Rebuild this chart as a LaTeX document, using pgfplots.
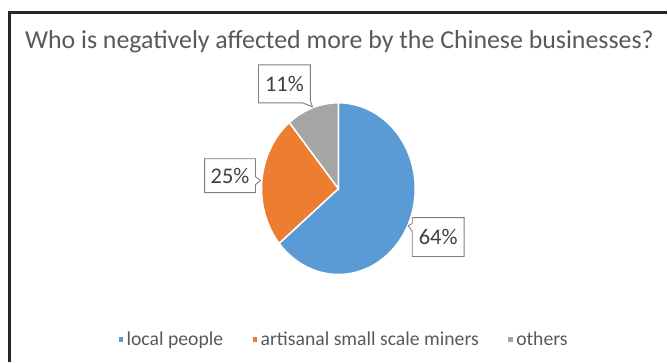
\documentclass[border=0pt]{standalone}
\usepackage{pgfplots}
\pgfplotsset{compat=1.18}
\usepackage{fontspec}
\setmainfont{Carlito}
\definecolor{cblue}{HTML}{5B9BD5}
\definecolor{corange}{HTML}{ED7D31}
\definecolor{cgray}{HTML}{A5A5A5}
\definecolor{ctext}{HTML}{595959}
\definecolor{clabel}{HTML}{404040}
\definecolor{cbox}{HTML}{7F7F7F}
\begin{document}
\begin{tikzpicture}
\begin{axis}[
  width=668bp, height=363bp, scale only axis,
  xmin=0, xmax=668, ymin=0, ymax=363,
  hide axis, clip=false,
  legend style={at={(axis cs:344,23)}, anchor=center, draw=none, fill=none,
    legend columns=3, font=\fontsize{19.8}{22}\selectfont\color{ctext},
    /tikz/every even column/.append style={column sep=26bp}},
  legend image code/.code={\fill[#1] (1bp,-3bp) rectangle (7bp,3bp);},
]
\fill[white] (axis cs:0,0) rectangle (axis cs:668,363);
% pie: 64% local people, 25% artisanal small scale miners, 11% others
\addplot[fill=cblue, draw=white, line width=1.5bp, domain=-140.4:90, samples=120]
  ({339+77*cos(x)},{174+86*sin(x)}) -- (axis cs:339,174) -- cycle;
\addlegendentry{local people}
\addplot[fill=corange, draw=white, line width=1.5bp, domain=129.6:219.6, samples=60]
  ({339+77*cos(x)},{174+86*sin(x)}) -- (axis cs:339,174) -- cycle;
\addlegendentry{artisanal small scale miners}
\addplot[fill=cgray, draw=white, line width=1.5bp, domain=90:129.6, samples=30]
  ({339+77*cos(x)},{174+86*sin(x)}) -- (axis cs:339,174) -- cycle;
\addlegendentry{others}
% callouts
\draw[cbox, line width=0.9bp, fill=white] (axis cs:259,298) -- (axis cs:311,298) -- (axis cs:311,262) -- (axis cs:313,256) -- (axis cs:303,260) -- (axis cs:259,260) -- cycle;
\node[clabel, font=\fontsize{22.5}{24}\selectfont] at (axis cs:285,279) {11\%};
\draw[cbox, line width=0.9bp, fill=white] (axis cs:205,204) -- (axis cs:256,204) -- (axis cs:256,186) -- (axis cs:261,182) -- (axis cs:256,178) -- (axis cs:256,170) -- (axis cs:205,170) -- cycle;
\node[clabel, font=\fontsize{22.5}{24}\selectfont] at (axis cs:230.5,187) {25\%};
\draw[cbox, line width=0.9bp, fill=white] (axis cs:413,145) -- (axis cs:465,145) -- (axis cs:465,106) -- (axis cs:413,106) -- (axis cs:413,131) -- (axis cs:409,137) -- (axis cs:413,139) -- cycle;
\node[clabel, font=\fontsize{22.5}{24}\selectfont] at (axis cs:439,125.5) {64\%};
% title
\node[ctext, font=\fontsize{26}{28}\selectfont] at (axis cs:340,321) {Who is negatively affected more by the Chinese businesses?};
% frame
\draw[black!85, line width=2.5bp] (axis cs:9.5,0) -- (axis cs:9.5,350.5) -- (axis cs:668,350.5);
\end{axis}
\end{tikzpicture}
\end{document}
